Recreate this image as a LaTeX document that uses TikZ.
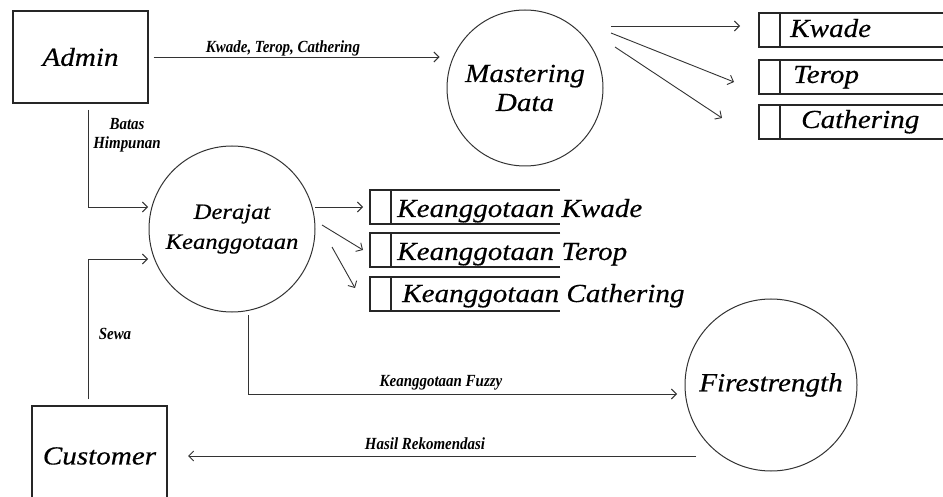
\documentclass[tikz,border=0pt]{standalone}
\usepackage{fontspec}
\setmainfont{Liberation Serif}
\newfontfamily\bigit[FakeStretch=1.12,FakeBold=0.4]{Liberation Serif}
\newfontfamily\smit[FakeStretch=0.88]{Liberation Serif}
\usetikzlibrary{arrows.meta}
\tikzset{
  ln/.style={draw=black!80, line width=0.9pt},
  arr/.style={ln, -{Straight Barb[length=5pt,width=10pt]}},
  ent/.style={draw=black!85, line width=1.1pt, rectangle, inner sep=0pt},
  proc/.style={draw=black!80, line width=1pt, circle, inner sep=0pt, align=center},
  bigtxt/.style={font=\bigit\itshape\fontsize{26}{29}\selectfont},
  dertxt/.style={font=\bigit\itshape\fontsize{22}{30}\selectfont},
  stxt/.style={bigtxt, anchor=base west, inner sep=0pt},
  lbl/.style={font=\smit\bfseries\itshape\fontsize{17}{19}\selectfont, inner sep=0pt, align=center},
  storeln/.style={draw=black!85, line width=1.1pt},
  pics/dstore/.style={code={
    \draw[storeln] (#1,0) -- (0,0) -- (0,34) -- (#1,34);
    \draw[storeln] (21,0) -- (21,34);
  }}
}
\begin{document}
\begin{tikzpicture}[x=1pt,y=-1pt]
\clip (0,0) rectangle (943,497);
\fill[white] (0,0) rectangle (943,497);

% entities and processes
\node[ent, minimum width=135pt, minimum height=92pt, bigtxt] (admin) at (80.5,57) {Admin};
\node[proc, minimum size=156pt, bigtxt] (mast) at (525,88) {Mastering\\Data};
\node[proc, minimum size=166pt, dertxt] (der) at (232,229) {Derajat\\Keanggotaan};
\node[proc, minimum size=172pt, bigtxt] (fire) at (771,385) {Firestrength};
\node[ent, minimum width=135pt, minimum height=100pt, bigtxt] (cust) at (99.5,456) {Customer};

% data stores
\pic at (759,13) {dstore=184};
\pic at (759,60) {dstore=184};
\pic at (759,105) {dstore=184};
\node[stxt] (skw) at (790,37) {Kwade};
\node[stxt] (ste) at (793,83) {Terop};
\node[stxt] (sca) at (801,128) {Cathering};

\pic at (370,190) {dstore=190};
\pic at (370,233) {dstore=190};
\pic at (370,277) {dstore=190};
\node[stxt] (kkw) at (397,217) {Keanggotaan Kwade};
\node[stxt] (kte) at (397,260) {Keanggotaan Terop};
\node[stxt] (kca) at (402,302) {Keanggotaan Cathering};

% connector end points
\coordinate (m1) at (611,26);  \coordinate (s1) at (740,26);
\coordinate (m2) at (611,33);  \coordinate (s2) at (734,82);
\coordinate (m3) at (615,47);  \coordinate (s3) at (722,118);
\coordinate (d1) at (315,207); \coordinate (k1) at (363,207);
\coordinate (d2) at (322,225); \coordinate (k2) at (363,250);
\coordinate (d3) at (332,247); \coordinate (k3) at (355,288);
\coordinate (a1) at (88,110);  \coordinate (der1) at (148,207);
\coordinate (c1) at (88,399);  \coordinate (der2) at (148,259);
\coordinate (d4) at (248,315); \coordinate (f1) at (677,394);
\coordinate (f2) at (696,456); \coordinate (c2) at (188,456);

% connectors
\draw[arr, shorten <=5pt, shorten >=7pt] (admin.east) -- (mast.west |- admin.east);
\draw[arr] (m1) -- (s1);
\draw[arr] (m2) -- (s2);
\draw[arr] (m3) -- (s3);
\draw[arr] (d1) -- (k1);
\draw[arr] (d2) -- (k2);
\draw[arr] (d3) -- (k3);
\draw[arr] (a1) |- (der1);
\draw[arr] (c1) |- (der2);
\draw[arr] (d4) |- (f1);
\draw[arr] (f2) -- (c2);

% labels
\node[lbl, anchor=base] (lkt) at (283,53) {Kwade, Terop, Cathering};
\node[lbl] (lbh) at (127,135) {Batas\\Himpunan};
\node[lbl, anchor=base] (lsw) at (115,339) {Sewa};
\node[lbl, anchor=base] (lkf) at (441,386) {Keanggotaan Fuzzy};
\node[lbl, anchor=base] (lhr) at (425,449) {Hasil Rekomendasi};
\end{tikzpicture}
\end{document}
